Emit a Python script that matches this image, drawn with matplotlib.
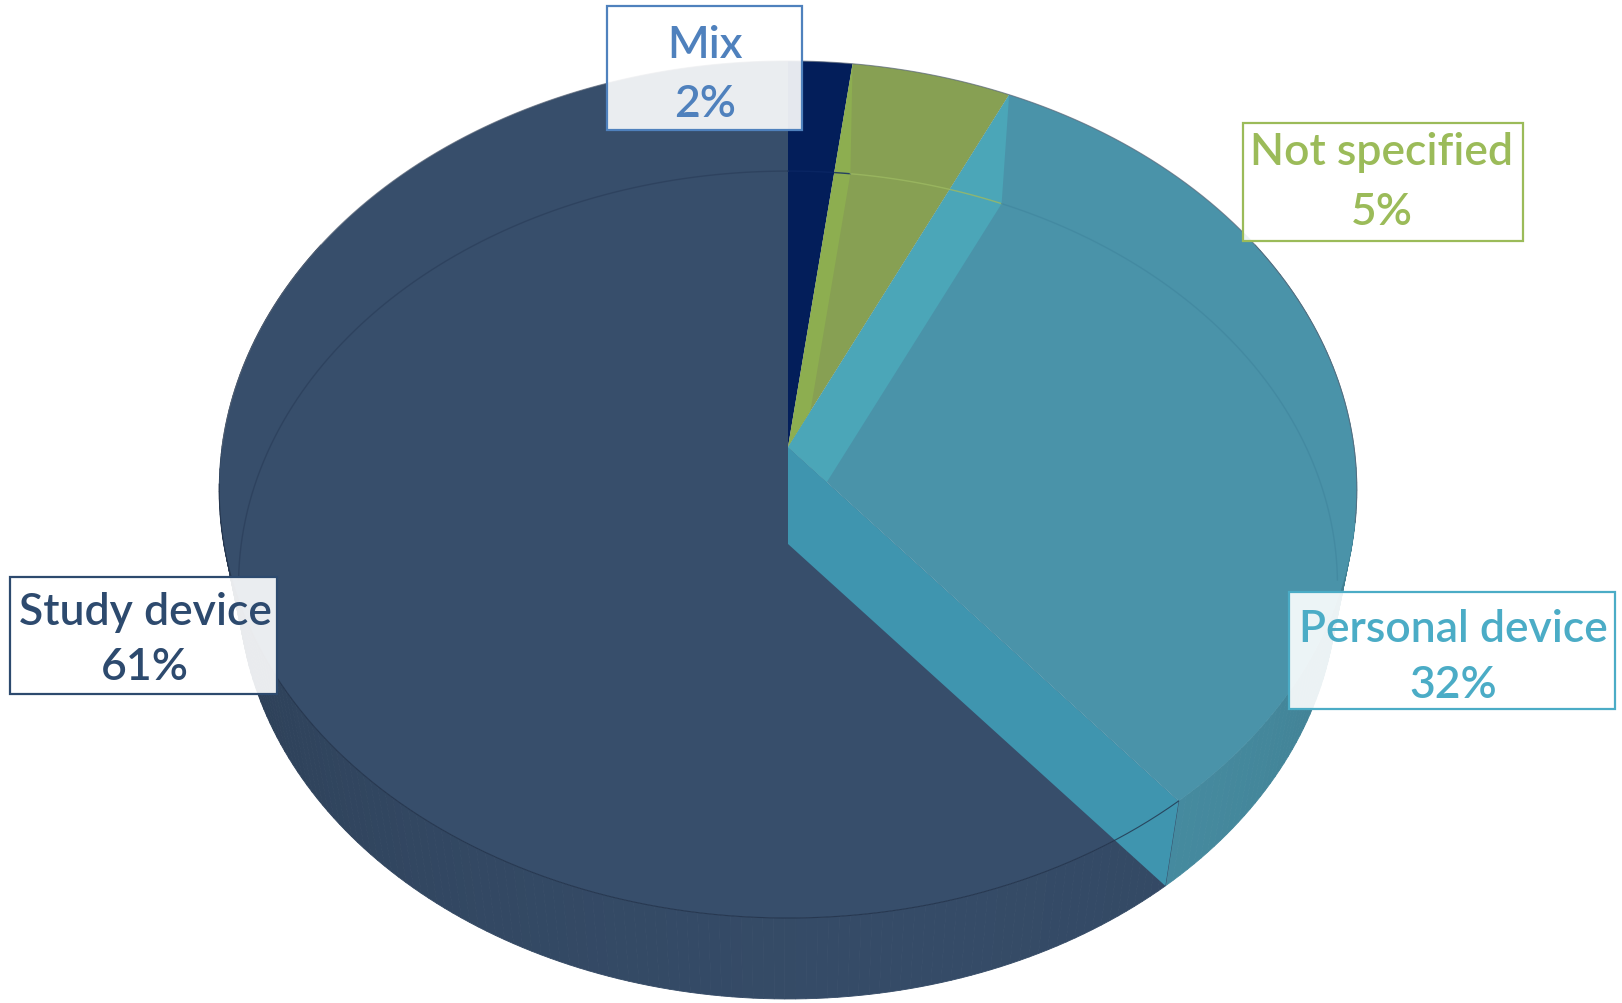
import numpy as np
import matplotlib
matplotlib.use("Agg")
import matplotlib.pyplot as plt
from matplotlib.patches import Polygon, Rectangle
from matplotlib.colors import to_rgb

categories = ["Mix", "Not specified", "Personal device", "Study device"]
values = [2, 5, 32, 61]
pct_labels = ["2%", "5%", "32%", "61%"]

top_colors = ["#031E5A", "#87A053", "#4A93A9", "#374E6B"]
band_colors = [None, "#8DAE50", "#4BA6B8", None]
rimline_colors = ["#0B2765", "#9DBA62", "#4288A0", "#2C405C"]
text_colors = ["#4F81BD", "#9BBB59", "#4BACC6", "#2D4A6E"]

fig = plt.figure(figsize=(16.22, 10.04), dpi=100)
ax = fig.add_axes([0, 0, 1, 1])
ax.set_xlim(0, 1622)
ax.set_ylim(1004, 0)
ax.axis("off")

# perspective geometry (pixels)
CX, CY, SX, SY, K = 788, 448, 566, 424.3, 0.0992
VPX, VPY, S = 788, 3300, 0.966


def top_pt(th):
    r = np.radians(np.atleast_1d(th))
    u, v = np.sin(r), np.cos(r)
    w = 1 + K * v
    return np.column_stack([CX + SX * u / w, CY - SY * v / w])


def bot(p):
    return np.column_stack([VPX + S * (p[:, 0] - VPX), VPY + S * (p[:, 1] - VPY)])


def shade(c, f):
    r, g, b = to_rgb(c)
    return (r * f, g * f, b * f)


C = np.array([[CX, CY]])
Cb = bot(C)

cum = np.concatenate([[0], np.cumsum(values)]) / sum(values) * 360
starts, ends = cum[:-1], cum[1:]

# 1. side walls
for i in range(len(values)):
    a0, a1 = max(starts[i], 60), min(ends[i], 300)
    if a1 <= a0:
        continue
    th = np.linspace(a0, a1, int(a1 - a0) + 2)
    tp = top_pt(th)
    bp = bot(tp)
    for j in range(len(th) - 1):
        mid = 0.5 * (th[j] + th[j + 1])
        f = np.clip(0.80 + 0.16 * np.cos(np.radians(mid - 170)), 0.7, 1.0)
        col = shade(top_colors[i], f)
        quad = np.vstack([tp[j], tp[j + 1], bp[j + 1], bp[j]])
        ax.add_patch(Polygon(quad, closed=True, fc=col, ec=col, lw=0.6, zorder=1))


def wedge(i):
    th = np.linspace(starts[i], ends[i], max(int(ends[i] - starts[i]) * 2, 4))
    return np.vstack([C, top_pt(th)])


# 2. Study top
study = len(values) - 1
ax.add_patch(Polygon(wedge(study), closed=True, fc=top_colors[study], ec="none", zorder=2))

# 3. end face of Personal device slice (front facing)
pers = 2
e = top_pt(ends[pers])
face = np.vstack([C, e, bot(e), Cb])
ax.add_patch(Polygon(face, closed=True, fc="#3F95AF", ec="none", zorder=3))

# 4. other top wedges + see-through start faces
for i in range(len(values) - 1):
    wp = Polygon(wedge(i), closed=True, fc=top_colors[i], ec="none", zorder=4)
    ax.add_patch(wp)
    if band_colors[i] is not None:
        s = top_pt(starts[i])
        sf = np.vstack([C, s, bot(s), Cb])
        band = Polygon(sf, closed=True, fc=band_colors[i], ec="none", zorder=5)
        ax.add_patch(band)
        band.set_clip_path(wp)

# 5. faint inner lines (bottom rim seen through)
for i in range(len(values)):
    a0, a1 = starts[i], ends[i]
    for lo, hi in [(0, 95), (265, 360)]:
        s0, s1 = max(a0, lo), min(a1, hi)
        if s1 > s0:
            th = np.linspace(s0, s1, 80)
            bp = bot(top_pt(th))
            ax.plot(bp[:, 0], bp[:, 1], color=rimline_colors[i], lw=1.0, alpha=0.8, zorder=6)

# 6. rim outlines
th = np.linspace(ends[pers], 265, 200)
tp = top_pt(th)
ax.plot(tp[:, 0], tp[:, 1], color="#22324A", lw=0.8, alpha=0.8, zorder=7)
th = np.linspace(-90, 100, 300)
tp = top_pt(th)
ax.plot(tp[:, 0], tp[:, 1], color="#5A6678", lw=0.8, alpha=0.7, zorder=7)

# 7. label boxes
boxes = {
    "Mix": (607, 7, 195, 124, 705, 58, 117),
    "Not specified": (1243, 124, 280, 118, 1382, 165, 225),
    "Personal device": (1289, 593, 326, 117, 1453, 642, 698),
    "Study device": (10, 578, 267, 117, 145, 625, 680),
}
for i, cat in enumerate(categories):
    x, y, w, h, tx, b1, b2 = boxes[cat]
    ax.add_patch(Rectangle((x, y), w, h, fc=(1, 1, 1, 0.9), ec=text_colors[i], lw=1.6, zorder=10))
    ax.text(tx, b1, cat, color=text_colors[i], fontsize=32, family="Lato", fontweight="semibold",
            ha="center", va="baseline", zorder=11)
    ax.text(tx, b2, pct_labels[i], color=text_colors[i], fontsize=32, family="Lato",
            fontweight="semibold", ha="center", va="baseline", zorder=11)

fig.savefig("out.png", dpi=100, facecolor="white")
